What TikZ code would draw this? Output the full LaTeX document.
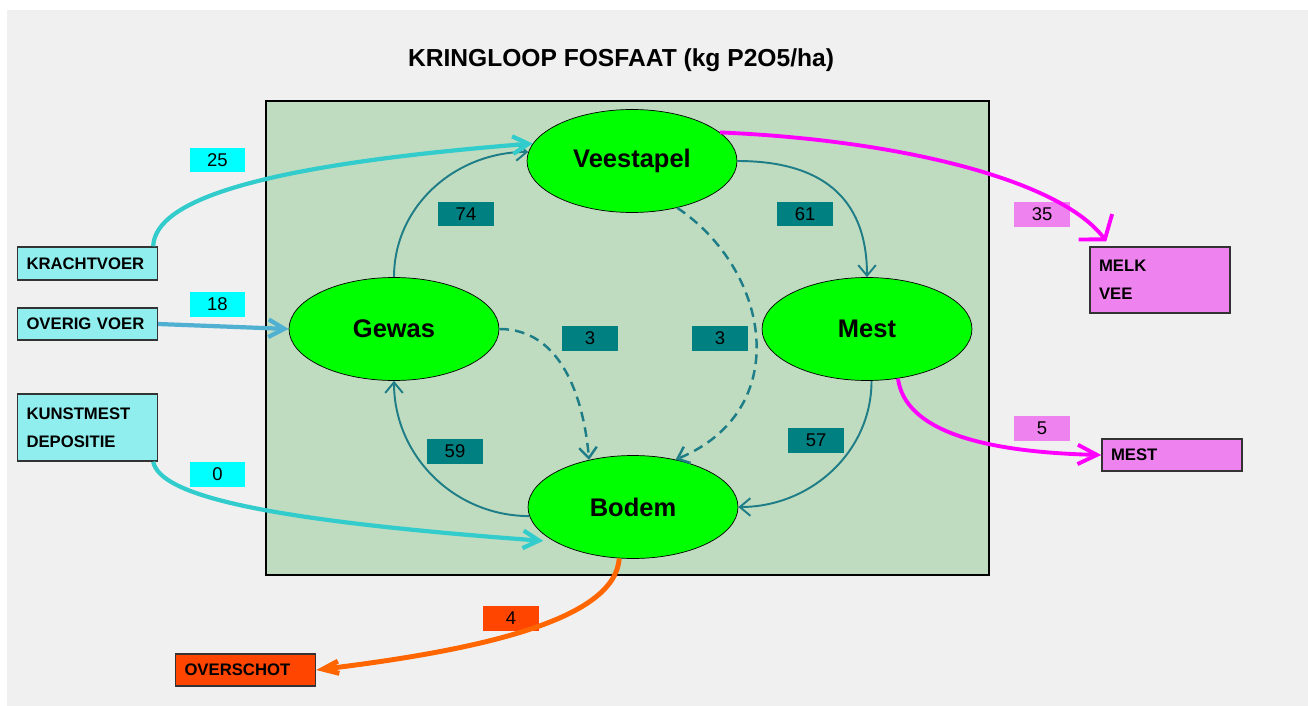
\documentclass[tikz,border=0pt]{standalone}
\usepackage{fontspec}
\setmainfont{Liberation Sans}
\usetikzlibrary{shapes.geometric,arrows.meta}
\definecolor{achter}{RGB}{240,240,240}
\definecolor{paneel}{RGB}{192,220,192}
\definecolor{knoop}{RGB}{0,255,0}
\definecolor{invoer}{RGB}{144,238,238}
\definecolor{invoerlbl}{RGB}{0,255,255}
\definecolor{invoerpijl}{RGB}{51,204,204}
\definecolor{voerpijl}{RGB}{80,176,210}
\definecolor{intern}{RGB}{0,128,128}
\definecolor{internpijl}{RGB}{30,125,135}
\definecolor{afvoer}{RGB}{238,130,238}
\definecolor{afvoerpijl}{RGB}{255,0,255}
\definecolor{verlies}{RGB}{255,69,0}
\definecolor{verliespijl}{RGB}{255,102,0}
\begin{document}
\begin{tikzpicture}[x=0.02cm,y=-0.02cm,
    pool/.style={ellipse,draw=black,fill=knoop,minimum width=4.2cm,minimum height=2.06cm,
        font=\fontsize{14.5}{17}\selectfont\bfseries},
    bak/.style={draw=black!80,line width=0.8pt,text width=2.44cm,inner xsep=0.18cm,
        align=left,font=\fontsize{9.5}{16}\selectfont\bfseries},
    getal/.style={minimum width=1.12cm,minimum height=0.5cm,inner sep=0pt,
        font=\fontsize{10.5}{12}\selectfont},
    kring/.style={internpijl,line width=1.1pt,-{Straight Barb[length=6pt,width=10pt]}},
    stippel/.style={kring,line width=1.4pt,dash pattern=on 5.5pt off 3.5pt},
    toevoer/.style={invoerpijl,line width=2.4pt,-{Straight Barb[length=9pt,width=10pt]}},
    afvoerlijn/.style={afvoerpijl,line width=2.2pt},
    verlieslijn/.style={verliespijl,line width=2.8pt,-{Straight Barb[length=9pt,width=7pt]}}]

    % achtergrond en kader
    \useasboundingbox (0,0) rectangle (1308,706);
    \fill[white] (0,0) rectangle (1308,706);
    \fill[achter] (7,10) rectangle (1308,706);
    \draw[fill=paneel,line width=0.8pt] (266,101) rectangle (989,575);

    \node (titel) at (621,60) {\fontsize{14}{16}\selectfont\bfseries KRINGLOOP FOSFAAT (kg P2O5/ha)};

    % kringloop
    \node[pool] (veestapel) at (632,161) {Veestapel};
    \node[pool] (gewas) at (394,329) {Gewas};
    \node[pool] (mest) at (867,329) {Mest};
    \node[pool] (bodem) at (633,507) {Bodem};

    % aanvoer en afvoer
    \node[bak,fill=invoer,minimum height=0.66cm] (kracht) at (87.5,263.5) {KRACHTVOER};
    \node[bak,fill=invoer,minimum height=0.64cm] (overig) at (87.5,324) {OVERIG VOER};
    \node[bak,fill=invoer,minimum height=1.34cm] (kunst) at (87.5,427.5) {KUNSTMEST\\DEPOSITIE};
    \node[bak,fill=afvoer,minimum height=1.32cm] (melk) at (1160,280) {MELK\\VEE};
    \node[bak,fill=afvoer,minimum height=0.64cm] (mestaf) at (1172,455) {MEST};
    \node[bak,fill=verlies,minimum height=0.64cm] (overschot) at (245.5,670) {OVERSCHOT};

    % getallen
    \node[getal,fill=invoerlbl] (n25) at (217.5,160) {25};
    \node[getal,fill=invoerlbl] (n18) at (217.5,304) {18};
    \node[getal,fill=invoerlbl] (n0) at (217.5,474) {0};
    \node[getal,fill=intern] (n74) at (466,214) {74};
    \node[getal,fill=intern] (n61) at (805,214) {61};
    \node[getal,fill=intern] (n3a) at (590,338.5) {3};
    \node[getal,fill=intern] (n3b) at (720,338.5) {3};
    \node[getal,fill=intern] (n59) at (455,451) {59};
    \node[getal,fill=intern] (n57) at (816,440) {57};
    \node[getal,fill=afvoer] (n35) at (1042,214.5) {35};
    \node[getal,fill=afvoer] (n5) at (1042,428.5) {5};
    \node[getal,fill=verlies] (n4) at (511,618.5) {4};

    % stromen binnen het bedrijf
    \draw[kring] (gewas.north) to[out=90,in=180] (veestapel.175);
    \draw[kring] (veestapel.east) to[out=0,in=90,looseness=1.2] (mest.north);
    \draw[kring] (mest.-85) to[out=-90,in=0] (bodem.east);
    \draw[kring] (bodem.185) to[out=180,in=-90] (gewas.south);
    \draw[stippel] (gewas.east) to[out=0,in=95] (bodem.133);
    \draw[stippel] (veestapel.-46) .. controls (770,270) and (795,410) .. (bodem.48);

    % aanvoer
    \draw[toevoer] ([xshift=-0.1cm]kracht.north east) .. controls (155,200) and (260,165) .. (veestapel.170);
    \draw[toevoer,voerpijl] (overig.east) -- (gewas.west);
    \draw[toevoer] ([xshift=-0.1cm]kunst.south east) .. controls (160,495) and (260,520) .. ([xshift=-0.2cm]bodem.203);

    % afvoer en verlies
    \draw[afvoerlijn,-{Straight Barb[length=9pt,width=24pt]}] (veestapel.18)
        .. controls (900,140) and (1060,180) .. ([xshift=0.34cm,yshift=0.1cm]melk.north west);
    \draw[afvoerlijn,-{Straight Barb[length=11pt,width=11pt]}] (mest.-58)
        .. controls (905,430) and (980,452) .. (mestaf.west);
    \draw[verlieslijn] (bodem.-105) .. controls (615,620) and (480,650) .. (overschot.east);
\end{tikzpicture}
\end{document}
